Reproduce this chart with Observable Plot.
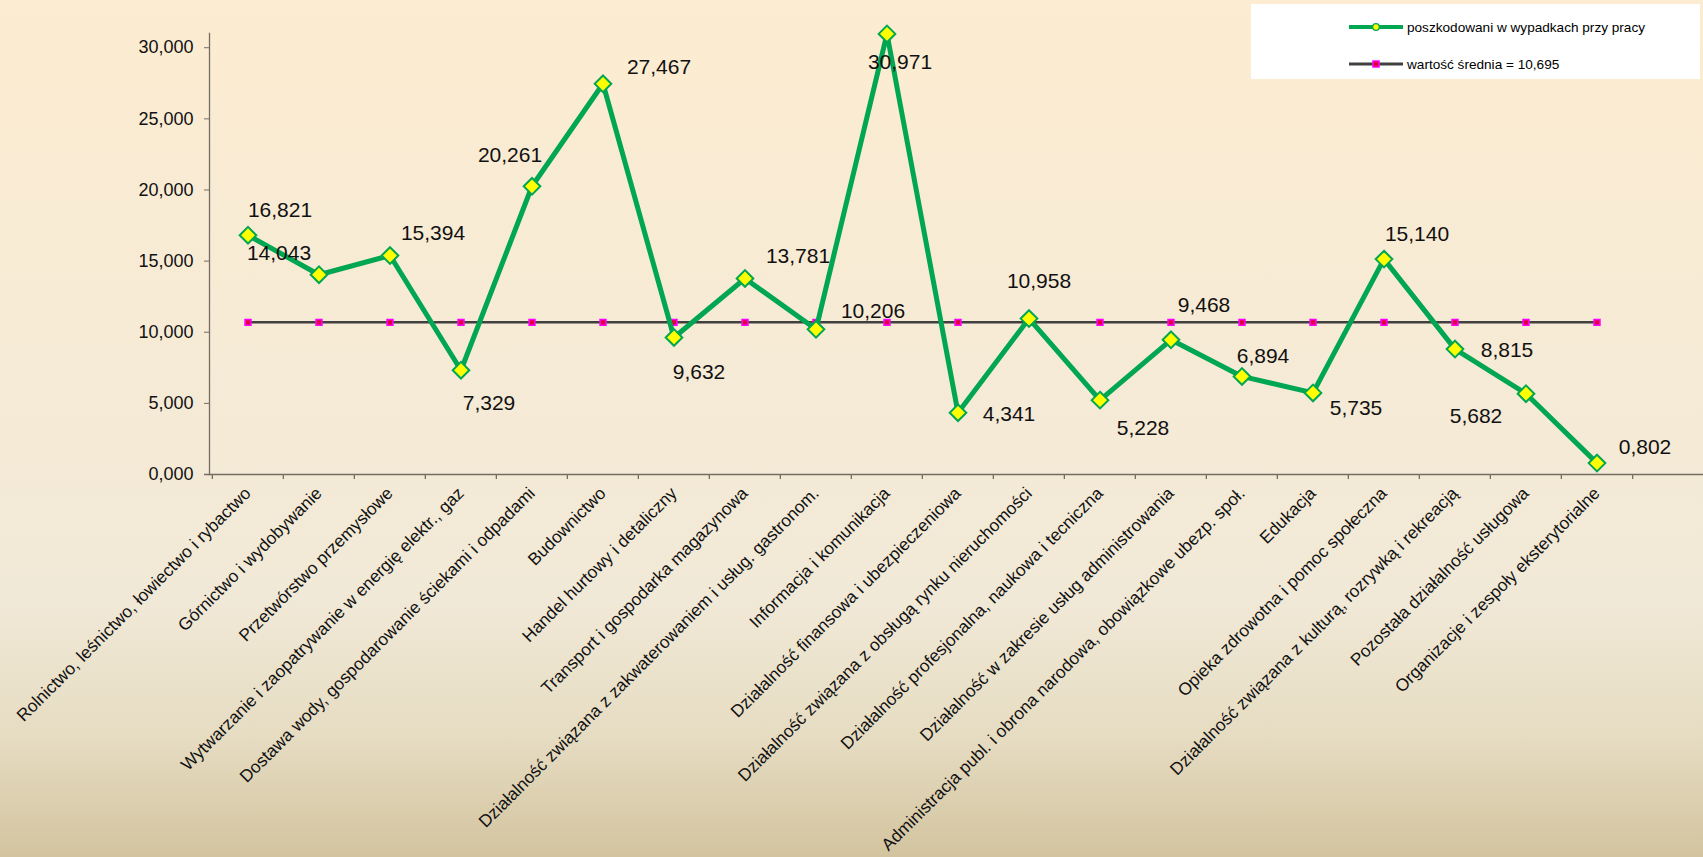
<!DOCTYPE html>
<html>
<head>
<meta charset="utf-8">
<script src="https://cdn.jsdelivr.net/npm/d3@7"></script>
<script src="https://cdn.jsdelivr.net/npm/@observablehq/plot@0.6"></script>
<style>
  html, body { margin: 0; padding: 0; width: 1703px; height: 857px; overflow: hidden; }
  body {
    background: linear-gradient(to bottom, #fcecd1 0%, #f7ebd5 35%, #f1e9d7 70%, #e6dcc2 86%, #d3c49f 100%);
    font-family: "Liberation Sans", Arial, sans-serif;
    position: relative;
  }
  #chart { position: absolute; left: 0; top: 0; }
  #legend {
    position: absolute; left: 1251px; top: 4px; width: 449px; height: 75px;
    background: #ffffff;
  }
  .lg-row { position: absolute; left: 98px; height: 20px; display: flex; align-items: center; }
  .lg-row span { font-size: 13.6px; color: #000; margin-left: 4px; white-space: nowrap; }
</style>
</head>
<body>
<div id="chart"></div>
<div id="legend">
  <div class="lg-row" style="top:13px">
    <svg width="54" height="20"><line x1="0" y1="10" x2="54" y2="10" stroke="#00a651" stroke-width="4"/><circle cx="27" cy="10" r="3.3" fill="#ffff00" stroke="#00a651" stroke-width="1.3"/></svg>
    <span id="lg1"></span>
  </div>
  <div class="lg-row" style="top:50px">
    <svg width="54" height="20"><line x1="0" y1="10" x2="54" y2="10" stroke="#404040" stroke-width="3"/><rect x="24" y="7" width="6" height="6" fill="#e0003a" stroke="#ff00ff" stroke-width="1.5"/></svg>
    <span id="lg2"></span>
  </div>
</div>
<script>
// ---- data ----
const categories = [
  "Rolnictwo, leśnictwo, łowiectwo i rybactwo",
  "Górnictwo i wydobywanie",
  "Przetwórstwo przemysłowe",
  "Wytwarzanie i zaopatrywanie w energię elektr., gaz",
  "Dostawa wody, gospodarowanie ściekami i odpadami",
  "Budownictwo",
  "Handel hurtowy i detaliczny",
  "Transport i gospodarka magazynowa",
  "Działalność związana z zakwaterowaniem i usług. gastronom.",
  "Informacja i komunikacja",
  "Działalność finansowa i ubezpieczeniowa",
  "Działalność związana z obsługą rynku nieruchomości",
  "Działalność profesjonalna, naukowa i tecniczna",
  "Działalność w zakresie usług administrowania",
  "Administracja publ. i obrona narodowa, obowiązkowe ubezp. społ.",
  "Edukacja",
  "Opieka zdrowotna i pomoc społeczna",
  "Działalność związana z kulturą, rozrywką i rekreacją",
  "Pozostała działalność usługowa",
  "Organizacje i zespoły eksterytorialne"
];
const values = [16.821, 14.043, 15.394, 7.329, 20.261, 27.467, 9.632, 13.781, 10.206, 30.971,
                4.341, 10.958, 5.228, 9.468, 6.894, 5.735, 15.140, 8.815, 5.682, 0.802];
const meanValue = 10.695;
const yTicks = [0, 5, 10, 15, 20, 25, 30];
const seriesNames = ["poszkodowani w wypadkach przy pracy", "wartość średnia = "];

// ---- label placement (pixel offsets from each point) ----
const labelOffsets = [
  [32, -25], [-40, -21], [43, -22], [28, 33], [-22, -31], [56, -16], [25, 35], [53, -22],
  [57, -18], [13, 28], [51, 2], [10, -37], [43, 28], [33, -35], [21, -20], [43, 15],
  [33, -25], [52, 1], [-50, 23], [48, -16]
];

const locale = d3.formatLocale({decimal: ",", thousands: " ", grouping: [3], currency: ["", ""]});
const fmt = locale.format(".3f");

document.getElementById("lg1").textContent = seriesNames[0];
document.getElementById("lg2").textContent = seriesNames[1] + fmt(meanValue);

const data = categories.map((c, i) => ({category: c, value: values[i]}));
const meanData = categories.map(c => ({category: c, value: meanValue}));

const W = 1703, H = 857;
const mL = 209, mR = 68, mT = 33, mB = 383;
const bw = (W - mL - mR) / categories.length;
const axisColor = "#756d62";
const green = "#00a651";

const labelMarks = data.map((d, i) => Plot.text([d], {
  x: "category", y: "value", text: e => fmt(e.value),
  dx: labelOffsets[i][0], dy: labelOffsets[i][1],
  fontSize: 21, fill: "#111", textAnchor: "middle", lineAnchor: "middle"
}));

const plot = Plot.plot({
  width: W, height: H,
  marginLeft: mL, marginRight: mR, marginTop: mT, marginBottom: mB,
  style: {background: "transparent", fontFamily: "'Liberation Sans', Arial, sans-serif", color: "#111", overflow: "visible"},
  x: {type: "band", domain: categories, padding: 0},
  y: {domain: [0, 31]},
  marks: [
    Plot.frame({anchor: "left", stroke: axisColor, strokeWidth: 1.3}),
    Plot.ruleY([0], {stroke: axisColor, strokeWidth: 1.3, insetLeft: -5, insetRight: -mR}),
    Plot.ruleX(categories, {x: d => d, y1: 0, y2: 0, insetBottom: -5, dx: -bw / 2, stroke: axisColor, strokeWidth: 1.3}),
    Plot.ruleX(categories.slice(-1), {x: d => d, y1: 0, y2: 0, insetBottom: -5, dx: bw / 2, stroke: axisColor, strokeWidth: 1.3}),
    Plot.axisY({ticks: yTicks, tickSize: 5, tickPadding: 11, tickFormat: fmt, fontSize: 18, stroke: axisColor, label: null}),
    Plot.axisX({tickSize: 0, tickRotate: -45, tickPadding: 16, dx: 0, fontSize: 17.3, label: null}),
    Plot.line(meanData, {x: "category", y: "value", stroke: "#404040", strokeWidth: 2.5}),
    Plot.dot(meanData, {x: "category", y: "value", symbol: "square", r: 3.3, fill: "#e0003a", stroke: "#ff00ff", strokeWidth: 1.6}),
    Plot.line(data, {x: "category", y: "value", stroke: green, strokeWidth: 5}),
    Plot.dot(data, {x: "category", y: "value", symbol: "diamond2", r: 7.5, fill: "#ffff00", stroke: green, strokeWidth: 2}),
    ...labelMarks
  ]
});
document.getElementById("chart").appendChild(plot);
</script>
</body>
</html>
